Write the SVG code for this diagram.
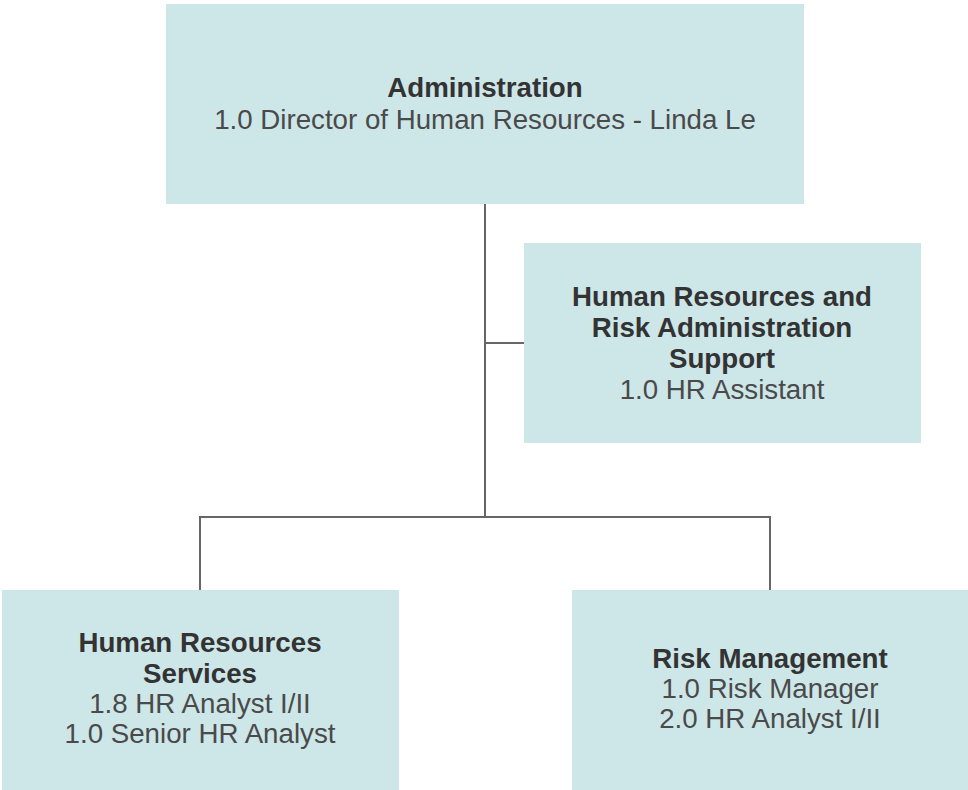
<svg xmlns="http://www.w3.org/2000/svg" width="968" height="790" viewBox="0 0 968 790">
<style>
.box{fill:#cde6e8;}
.t{font-family:"Liberation Sans",Arial,sans-serif;font-size:27.7px;text-anchor:middle;fill:#4a4a4a;}
.b{font-weight:bold;fill:#333;}
.c{fill:none;stroke:#666;stroke-width:2;}
</style>
<rect width="968" height="790" fill="#ffffff"/>
<g id="connectors">
<path class="c" d="M485 204 V517"/>
<path class="c" d="M485 343 H524"/>
<path class="c" d="M200 590 V517 H770 V590"/>
</g>
<g id="administration">
<rect class="box" x="166" y="4" width="638" height="200"/>
<text class="t b" x="485" y="97">Administration</text>
<text class="t" x="485" y="129">1.0 Director of Human Resources - Linda Le</text>
</g>
<g id="hr-risk-support">
<rect class="box" x="524" y="243" width="397" height="200"/>
<text class="t b" x="722" y="306">Human Resources and</text>
<text class="t b" x="722" y="337">Risk Administration</text>
<text class="t b" x="722" y="368">Support</text>
<text class="t" x="722" y="399">1.0 HR Assistant</text>
</g>
<g id="hr-services">
<rect class="box" x="2" y="590" width="397" height="200"/>
<text class="t b" x="200" y="652">Human Resources</text>
<text class="t b" x="200" y="683">Services</text>
<text class="t" x="200" y="713">1.8 HR Analyst I/II</text>
<text class="t" x="200" y="743">1.0 Senior HR Analyst</text>
</g>
<g id="risk-management">
<rect class="box" x="572" y="590" width="396" height="200"/>
<text class="t b" x="770" y="668">Risk Management</text>
<text class="t" x="770" y="698">1.0 Risk Manager</text>
<text class="t" x="770" y="728">2.0 HR Analyst I/II</text>
</g>
</svg>
